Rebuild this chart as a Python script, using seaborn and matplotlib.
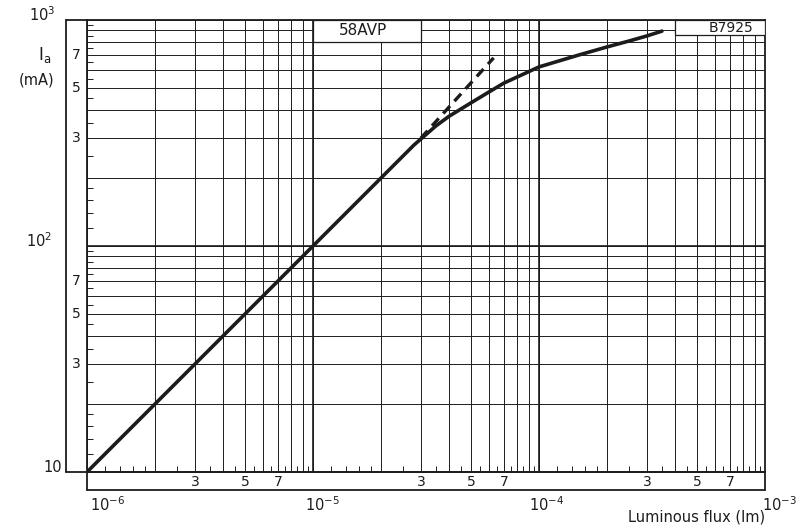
import seaborn as sns
import matplotlib.pyplot as plt
import matplotlib.ticker as mticker
from matplotlib.patches import Rectangle
import numpy as np

# anode current vs luminous flux
flux = [1e-6, 1e-5, 2.8e-5, 3.5e-5, 4e-5, 5e-5, 6e-5, 7e-5, 1e-4, 1.5e-4, 2e-4, 2.5e-4, 3e-4, 3.5e-4]
current = [10, 100, 280, 340, 375, 430, 480, 526, 620, 700, 760, 807, 850, 893]

# dashed linear extension
flux_lin = [3.0e-5, 6.3e-5]
current_lin = [300, 680]

x_decades = [1e-6, 1e-5, 1e-4, 1e-3]
x_dec_labels = ["10$^{-6}$", "10$^{-5}$", "10$^{-4}$", "10$^{-3}$"]
y_decades = [10, 100, 1000]
y_dec_labels = ["10", "10$^2$", "10$^3$"]
sub_labels = [3, 5, 7]

INK = "#1c1c1c"

sns.set_style("white")
plt.rcParams['font.family'] = ['DejaVu Sans']
plt.rcParams['mathtext.default'] = 'regular'

W, H = 805, 529
fig = plt.figure(figsize=(W / 100, H / 100), dpi=100)
L, R, T, B = 87, 765, 20, 472
ax = fig.add_axes([L / W, (H - B) / H, (R - L) / W, (B - T) / H])

ax.set_xscale("log")
ax.set_yscale("log")
ax.set_xlim(1e-6, 1e-3)
ax.set_ylim(10, 1000)

# grid lines at 1..9 of every decade, small inward ticks in between
ax.xaxis.set_major_locator(mticker.LogLocator(base=10, subs=np.arange(1, 10)))
ax.yaxis.set_major_locator(mticker.LogLocator(base=10, subs=np.arange(1, 10)))
small = [1.2, 1.4, 1.6, 1.8, 2.5, 3.5, 4.5, 5.5, 6.5, 7.5, 8.5, 9.5]
ax.xaxis.set_minor_locator(mticker.FixedLocator(
    [d * s for d in x_decades[:-1] for s in small]))
ax.yaxis.set_minor_locator(mticker.FixedLocator(
    [d * s for d in y_decades[:-1] for s in small]))
ax.xaxis.set_major_formatter(mticker.NullFormatter())
ax.yaxis.set_major_formatter(mticker.NullFormatter())
ax.xaxis.set_minor_formatter(mticker.NullFormatter())
ax.yaxis.set_minor_formatter(mticker.NullFormatter())
ax.tick_params(which="major", length=0)
ax.tick_params(which="minor", direction="in", length=4, width=0.7,
               color=INK, bottom=True, left=True, top=False, right=False)
ax.grid(which="major", color=INK, lw=0.7)
for v in x_decades[1:-1]:
    ax.axvline(v, color=INK, lw=1.2, zorder=1)
for v in y_decades[1:-1]:
    ax.axhline(v, color=INK, lw=1.2, zorder=1)
for s in ax.spines.values():
    s.set_color(INK)
    s.set_linewidth(1.3)

sns.lineplot(x=flux, y=current, ax=ax, color=INK, lw=2.6, sort=False,
             estimator=None, zorder=5)
sns.lineplot(x=flux_lin, y=current_lin, ax=ax, color=INK, lw=2.4,
             linestyle=(0, (3, 2)), estimator=None, zorder=5)

# label boxes at the top that hide the grid
ax.add_patch(Rectangle((1e-5, 800), 2e-5, 200, facecolor="white",
                       edgecolor=INK, lw=0.9, zorder=3))
ax.text(1.66e-5, 900, "58AVP", ha="center", va="center", fontsize=11,
        color=INK, zorder=4)
ax.add_patch(Rectangle((4e-4, 860), 6e-4, 140, facecolor="white",
                       edgecolor=INK, lw=0.9, zorder=3))
ax.text(7.05e-4, 922, "B7925", ha="center", va="center", fontsize=10,
        color=INK, zorder=4)

# outer strips for the sub-decade labels
dx = 18 / (R - L)
dy = 18 / (B - T)
kw = dict(transform=ax.transAxes, color=INK, lw=1.3, clip_on=False)
ax.plot([-dx - 0.004, -dx - 0.004], [0, 1], **kw)
ax.plot([-dx - 0.004, 0], [1, 1], **kw)
ax.plot([-dx - 0.004, 0], [0, 0], **kw)
ax.plot([0, 1, 1], [0, 0, 0], **kw)
ax.plot([0, 0], [0, -dy], **kw)
ax.plot([1, 1], [0, -dy], **kw)
ax.plot([0, 1], [-dy, -dy], **kw)

for d in y_decades[:-1]:
    for s in sub_labels:
        ax.annotate(str(s), xy=(0, d * s), xycoords=("axes fraction", "data"),
                    xytext=(-11, 0), textcoords="offset pixels",
                    ha="center", va="center", fontsize=10, color=INK)
for d in x_decades[:-1]:
    for s in sub_labels:
        ax.annotate(str(s), xy=(d * s, 0), xycoords=("data", "axes fraction"),
                    xytext=(0, -10), textcoords="offset pixels",
                    ha="center", va="center", fontsize=10, color=INK)

x_off = [3, -8, -10, -3]
for v, lab, o in zip(x_decades, x_dec_labels, x_off):
    ax.annotate(lab, xy=(v, 0), xycoords=("data", "axes fraction"),
                xytext=(o, -33), textcoords="offset pixels",
                ha="left", va="center", fontsize=10.5, color=INK)
y_off = [-25, -35, -32]
for v, lab, o in zip(y_decades, y_dec_labels, y_off):
    ax.annotate(lab, xy=(0, v), xycoords=("axes fraction", "data"),
                xytext=(o, 5), textcoords="offset pixels",
                ha="right", va="center", fontsize=10.5, color=INK)

fig.text(45 / W, 1 - 55 / H, "I$_a$", ha="center", va="center",
         fontsize=12, color=INK)
fig.text(37 / W, 1 - 80 / H, "(mA)", ha="center", va="center",
         fontsize=10.5, color=INK)
fig.text(765 / W, 1 - 517 / H, "Luminous flux (lm)", ha="right",
         va="center", fontsize=10.5, color=INK)

fig.savefig("out.png", dpi=100, facecolor="white")
